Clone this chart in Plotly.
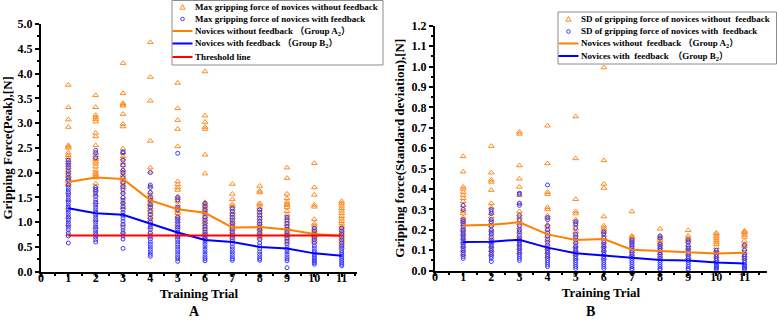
import plotly.graph_objects as go

trials = [1, 2, 3, 4, 5, 6, 7, 8, 9, 10, 11]
x_ticks = [0, 1, 2, 3, 4, 5, 6, 7, 8, 9, 10, 11]

# ---- Panel A: peak gripping force ----
peak_A_mean = [1.81, 1.90, 1.87, 1.44, 1.26, 1.19, 0.89, 0.90, 0.85, 0.76, 0.72]
peak_B_mean = [1.28, 1.18, 1.15, 0.97, 0.79, 0.64, 0.60, 0.50, 0.47, 0.37, 0.32]
threshold = [0.73] * 11

peak_A_pts = [
    [3.77, 3.32, 3.07, 2.92, 2.55, 2.52, 2.50, 2.40, 2.35, 2.30, 2.25, 2.20, 2.15, 2.10, 2.05, 2.00, 1.95, 1.92, 1.88, 1.85, 1.82, 1.78, 1.75, 1.60, 1.45, 1.30, 1.10, 0.95, 0.75],
    [3.56, 3.32, 3.16, 3.12, 3.08, 3.03, 2.80, 2.73, 2.55, 2.40, 2.35, 2.30, 2.27, 2.22, 2.18, 2.12, 2.05, 2.00, 1.97, 1.93, 1.90, 1.78, 1.72, 1.65, 1.55, 1.40, 1.20, 1.05, 0.90, 0.75],
    [4.21, 3.60, 3.40, 3.37, 3.35, 3.18, 2.98, 2.93, 2.48, 2.40, 2.33, 2.28, 2.20, 2.15, 2.05, 2.00, 1.95, 1.90, 1.85, 1.80, 1.75, 1.70, 1.60, 1.50, 1.40, 1.30, 1.15, 0.95, 0.80],
    [4.63, 3.93, 3.45, 2.64, 2.10, 2.02, 1.72, 1.60, 1.55, 1.50, 1.45, 1.42, 1.38, 1.35, 1.30, 1.25, 1.20, 1.15, 1.10, 1.05, 1.00, 0.90, 0.80, 0.70],
    [3.81, 3.30, 3.06, 2.88, 2.53, 1.82, 1.76, 1.70, 1.65, 1.52, 1.48, 1.42, 1.35, 1.30, 1.27, 1.22, 1.18, 1.12, 1.08, 1.02, 0.95, 0.90, 0.80, 0.70],
    [4.04, 3.15, 3.02, 2.92, 2.88, 2.36, 1.98, 1.40, 1.36, 1.32, 1.28, 1.24, 1.20, 1.15, 1.10, 1.05, 1.00, 0.95, 0.90, 0.85, 0.80, 0.75, 0.70],
    [1.77, 1.57, 1.46, 1.36, 1.32, 1.27, 1.20, 1.15, 1.10, 1.05, 1.00, 0.96, 0.92, 0.88, 0.85, 0.80, 0.76, 0.72, 0.68, 0.62],
    [1.73, 1.63, 1.60, 1.38, 1.35, 1.30, 1.26, 1.20, 1.14, 1.08, 1.02, 0.97, 0.92, 0.88, 0.85, 0.80, 0.76, 0.72, 0.68],
    [2.10, 1.89, 1.57, 1.48, 1.41, 1.37, 1.34, 1.30, 1.22, 1.15, 1.08, 1.02, 0.96, 0.90, 0.85, 0.80, 0.76, 0.72, 0.66, 0.60],
    [2.19, 1.70, 1.55, 1.35, 1.31, 1.06, 0.97, 0.93, 0.88, 0.84, 0.80, 0.77, 0.74, 0.71, 0.68, 0.64, 0.60],
    [1.42, 1.38, 1.33, 1.28, 1.23, 1.18, 1.12, 1.07, 1.02, 0.97, 0.92, 0.88, 0.84, 0.80, 0.76, 0.72, 0.68, 0.64, 0.60, 0.55, 0.50],
]
peak_B_pts = [
    [2.25, 2.20, 2.15, 2.10, 2.03, 1.97, 1.90, 1.85, 1.75, 1.70, 1.65, 1.60, 1.55, 1.50, 1.45, 1.40, 1.35, 1.30, 1.25, 1.20, 1.15, 1.10, 1.05, 1.00, 0.95, 0.90, 0.85, 0.78, 0.72, 0.58],
    [2.45, 2.40, 2.30, 1.70, 1.66, 1.62, 1.58, 1.52, 1.45, 1.40, 1.35, 1.30, 1.25, 1.20, 1.15, 1.10, 1.05, 1.00, 0.95, 0.90, 0.85, 0.80, 0.75, 0.70, 0.65, 0.60],
    [2.42, 2.40, 2.25, 2.15, 2.05, 2.00, 1.90, 1.80, 1.72, 1.65, 1.58, 1.50, 1.44, 1.38, 1.32, 1.26, 1.20, 1.14, 1.08, 1.02, 0.96, 0.90, 0.84, 0.78, 0.72, 0.66, 0.47],
    [2.00, 1.75, 1.70, 1.60, 1.50, 1.45, 1.35, 1.30, 1.22, 1.15, 1.08, 1.00, 0.95, 0.90, 0.85, 0.78, 0.72, 0.66, 0.60, 0.55, 0.50, 0.45, 0.40, 0.35, 0.31],
    [2.39, 1.50, 1.45, 1.30, 1.25, 1.10, 1.05, 1.00, 0.95, 0.90, 0.85, 0.80, 0.75, 0.70, 0.65, 0.60, 0.55, 0.50, 0.45, 0.40, 0.35, 0.30, 0.26, 0.21],
    [1.38, 1.32, 1.25, 1.18, 1.10, 1.04, 0.98, 0.92, 0.86, 0.80, 0.75, 0.70, 0.65, 0.60, 0.55, 0.50, 0.45, 0.40, 0.35, 0.30, 0.26, 0.22],
    [1.28, 1.22, 1.16, 1.10, 1.04, 0.98, 0.92, 0.86, 0.80, 0.74, 0.68, 0.62, 0.56, 0.50, 0.45, 0.40, 0.35, 0.30, 0.26, 0.23],
    [1.25, 1.20, 1.14, 1.08, 1.02, 0.96, 0.90, 0.84, 0.78, 0.72, 0.65, 0.58, 0.52, 0.46, 0.40, 0.35, 0.30, 0.26, 0.23],
    [1.10, 1.05, 0.98, 0.92, 0.86, 0.80, 0.74, 0.68, 0.62, 0.56, 0.50, 0.45, 0.40, 0.35, 0.30, 0.26, 0.22, 0.08],
    [0.88, 0.82, 0.76, 0.70, 0.64, 0.58, 0.52, 0.47, 0.42, 0.38, 0.34, 0.30, 0.27, 0.24, 0.21, 0.18, 0.15],
    [0.88, 0.82, 0.76, 0.70, 0.64, 0.58, 0.52, 0.47, 0.42, 0.38, 0.34, 0.30, 0.26, 0.22, 0.18, 0.15, 0.12],
]

# ---- Panel B: standard deviation ----
sd_A_mean = [0.222, 0.225, 0.237, 0.178, 0.150, 0.155, 0.103, 0.098, 0.090, 0.084, 0.088]
sd_B_mean = [0.140, 0.142, 0.152, 0.113, 0.085, 0.075, 0.065, 0.053, 0.050, 0.040, 0.035]

sd_A_pts = [
    [0.56, 0.485, 0.41, 0.40, 0.385, 0.37, 0.355, 0.34, 0.32, 0.30, 0.29, 0.28, 0.26, 0.25, 0.24, 0.225, 0.21, 0.20, 0.18, 0.16, 0.14, 0.12, 0.10, 0.08],
    [0.61, 0.48, 0.445, 0.435, 0.395, 0.33, 0.31, 0.28, 0.265, 0.25, 0.235, 0.22, 0.20, 0.18, 0.16, 0.14, 0.12, 0.10, 0.08],
    [0.68, 0.67, 0.515, 0.45, 0.41, 0.37, 0.33, 0.29, 0.275, 0.26, 0.245, 0.23, 0.21, 0.19, 0.17, 0.15, 0.13, 0.11, 0.09],
    [0.71, 0.525, 0.385, 0.375, 0.31, 0.30, 0.27, 0.26, 0.225, 0.215, 0.20, 0.185, 0.17, 0.15, 0.13, 0.11, 0.09, 0.07],
    [0.755, 0.55, 0.35, 0.29, 0.28, 0.25, 0.24, 0.225, 0.205, 0.19, 0.175, 0.16, 0.14, 0.12, 0.10, 0.08, 0.06],
    [0.995, 0.54, 0.425, 0.405, 0.265, 0.22, 0.21, 0.20, 0.19, 0.175, 0.16, 0.14, 0.12, 0.10, 0.08, 0.06],
    [0.29, 0.17, 0.165, 0.16, 0.15, 0.14, 0.125, 0.11, 0.095, 0.08, 0.065],
    [0.205, 0.17, 0.16, 0.15, 0.14, 0.13, 0.115, 0.10, 0.085, 0.07],
    [0.198, 0.17, 0.16, 0.15, 0.14, 0.125, 0.11, 0.095, 0.08, 0.065],
    [0.185, 0.18, 0.17, 0.16, 0.15, 0.14, 0.13, 0.115, 0.10, 0.085, 0.07, 0.055],
    [0.195, 0.19, 0.185, 0.175, 0.165, 0.145, 0.13, 0.12, 0.105, 0.09, 0.075, 0.06],
]
sd_B_pts = [
    [0.32, 0.30, 0.25, 0.24, 0.23, 0.215, 0.20, 0.19, 0.18, 0.17, 0.16, 0.15, 0.14, 0.13, 0.12, 0.11, 0.10, 0.09, 0.08, 0.07, 0.06],
    [0.30, 0.29, 0.28, 0.25, 0.24, 0.22, 0.20, 0.19, 0.18, 0.165, 0.15, 0.14, 0.13, 0.12, 0.11, 0.10, 0.09, 0.08, 0.07, 0.06, 0.045],
    [0.38, 0.375, 0.33, 0.32, 0.27, 0.25, 0.22, 0.20, 0.19, 0.175, 0.16, 0.15, 0.14, 0.13, 0.12, 0.11, 0.10, 0.09, 0.08, 0.07, 0.06, 0.05],
    [0.42, 0.26, 0.25, 0.22, 0.20, 0.185, 0.17, 0.155, 0.14, 0.125, 0.11, 0.10, 0.09, 0.08, 0.07, 0.06, 0.05, 0.04, 0.03, 0.02],
    [0.24, 0.23, 0.21, 0.18, 0.165, 0.15, 0.135, 0.12, 0.11, 0.10, 0.09, 0.08, 0.07, 0.06, 0.05, 0.04, 0.03, 0.02, 0.01],
    [0.19, 0.18, 0.16, 0.145, 0.13, 0.12, 0.11, 0.10, 0.09, 0.08, 0.07, 0.06, 0.05, 0.04, 0.03, 0.02, 0.01],
    [0.15, 0.14, 0.13, 0.12, 0.11, 0.10, 0.09, 0.08, 0.07, 0.06, 0.05, 0.04, 0.03, 0.02, 0.01, 0.005],
    [0.17, 0.16, 0.13, 0.12, 0.11, 0.10, 0.09, 0.08, 0.07, 0.06, 0.05, 0.04, 0.03, 0.02, 0.01, 0.005],
    [0.15, 0.14, 0.12, 0.11, 0.10, 0.09, 0.08, 0.07, 0.06, 0.05, 0.04, 0.03, 0.02, 0.01, 0.005],
    [0.10, 0.09, 0.08, 0.07, 0.06, 0.05, 0.04, 0.03, 0.025, 0.02, 0.015, 0.01, 0.005],
    [0.125, 0.10, 0.08, 0.07, 0.06, 0.05, 0.04, 0.03, 0.025, 0.02, 0.015, 0.01, 0.005],
]

legend_A_labels = [
    "Max gripping force of novices without feedback",
    "Max gripping force of novices with feedback",
    "Novices without feedback （Group A<sub>2</sub>）",
    "Novices with feedback （Group B<sub>2</sub>）",
    "Threshold line",
]
legend_B_labels = [
    "SD of gripping force of novices without  feedback",
    "SD of gripping force of novices with  feedback",
    "Novices without  feedback （Group A<sub>2</sub>）",
    "Novices with  feedback  （Group B<sub>2</sub>）",
]

FONT = "Liberation Serif, Times New Roman, Noto Sans CJK SC, serif"
ORANGE = "#FF8A1F"
ORANGE_LINE = "#FF8000"
BLUE_M = "#3C3CFF"
BLUE_L = "#0000FF"
RED = "#FF0000"
W, H = 777, 321


def flat(pts):
    xs, ys = [], []
    for t, vals in zip(trials, pts):
        xs += [t] * len(vals)
        ys += vals
    return xs, ys


def fx(px):
    return px / W


def fy(py):
    return 1 - py / H


fig = go.Figure()

tri = dict(symbol="triangle-up-open", size=5, color=ORANGE, line=dict(width=1))
circ = dict(symbol="circle-open", size=4, color=BLUE_M, line=dict(width=1))

# Panel A traces
xa, ya = flat(peak_A_pts)
fig.add_trace(go.Scatter(x=xa, y=ya, mode="markers", name=legend_A_labels[0], marker=tri, xaxis="x", yaxis="y"))
xb, yb = flat(peak_B_pts)
fig.add_trace(go.Scatter(x=xb, y=yb, mode="markers", name=legend_A_labels[1], marker=circ, xaxis="x", yaxis="y"))
fig.add_trace(go.Scatter(x=trials, y=peak_A_mean, mode="lines", name=legend_A_labels[2],
                         line=dict(color=ORANGE_LINE, width=2), xaxis="x", yaxis="y"))
fig.add_trace(go.Scatter(x=trials, y=peak_B_mean, mode="lines", name=legend_A_labels[3],
                         line=dict(color=BLUE_L, width=2), xaxis="x", yaxis="y"))
fig.add_trace(go.Scatter(x=trials, y=threshold, mode="lines", name=legend_A_labels[4],
                         line=dict(color=RED, width=2), xaxis="x", yaxis="y"))

# Panel B traces
xa2, ya2 = flat(sd_A_pts)
fig.add_trace(go.Scatter(x=xa2, y=ya2, mode="markers", name=legend_B_labels[0], marker=tri, xaxis="x2", yaxis="y2"))
xb2, yb2 = flat(sd_B_pts)
fig.add_trace(go.Scatter(x=xb2, y=yb2, mode="markers", name=legend_B_labels[1], marker=circ, xaxis="x2", yaxis="y2"))
fig.add_trace(go.Scatter(x=trials, y=sd_A_mean, mode="lines", name=legend_B_labels[2],
                         line=dict(color=ORANGE_LINE, width=2), xaxis="x2", yaxis="y2"))
fig.add_trace(go.Scatter(x=trials, y=sd_B_mean, mode="lines", name=legend_B_labels[3],
                         line=dict(color=BLUE_L, width=2), xaxis="x2", yaxis="y2"))

# ---- compact legends (drawn as shapes + text) ----
shapes, annotations = [], []
leg_font = dict(family=FONT, size=9, color="black", weight="bold")


def draw_legend(box, rows, key_x0, key_x1, text_x, labels, kinds):
    x0, y0, x1, y1 = box
    shapes.append(dict(type="rect", xref="paper", yref="paper", x0=fx(x0), x1=fx(x1), y0=fy(y1), y1=fy(y0),
                       line=dict(color="#8c8c8c", width=1), fillcolor="white", layer="above"))
    cx = (key_x0 + key_x1) / 2
    for row, label, (kind, color) in zip(rows, labels, kinds):
        if kind == "tri":
            path = "M {:.5f},{:.5f} L {:.5f},{:.5f} L {:.5f},{:.5f} Z".format(
                fx(cx - 2.6), fy(row + 2.2), fx(cx + 2.6), fy(row + 2.2), fx(cx), fy(row - 2.4))
            shapes.append(dict(type="path", xref="paper", yref="paper", path=path,
                               line=dict(color=color, width=1), layer="above"))
        elif kind == "circ":
            shapes.append(dict(type="circle", xref="paper", yref="paper", x0=fx(cx - 1.8), x1=fx(cx + 1.8),
                               y0=fy(row + 1.8), y1=fy(row - 1.8), line=dict(color=color, width=1), layer="above"))
        else:
            shapes.append(dict(type="line", xref="paper", yref="paper", x0=fx(key_x0), x1=fx(key_x1),
                               y0=fy(row), y1=fy(row), line=dict(color=color, width=2), layer="above"))
        annotations.append(dict(text=label, x=fx(text_x), y=fy(row), xref="paper", yref="paper",
                                xanchor="left", yanchor="middle", showarrow=False, font=leg_font))


kinds_A = [("tri", ORANGE), ("circ", BLUE_M), ("line", ORANGE_LINE), ("line", BLUE_L), ("line", RED)]
kinds_B = [("tri", ORANGE), ("circ", BLUE_M), ("line", ORANGE_LINE), ("line", BLUE_L)]
draw_legend((172, 0.5, 383, 65), [7, 19, 31, 43.5, 57], 172.5, 192.5, 193, legend_A_labels, kinds_A)
draw_legend((558, 12, 776.5, 64), [19, 31.5, 43.5, 56], 558.5, 578.5, 579, legend_B_labels, kinds_B)

annotations += [
    dict(text="A", x=fx(187), y=fy(311.5), xref="paper", yref="paper", showarrow=False,
         font=dict(family=FONT, size=14, color="black", weight="bold"), yanchor="middle"),
    dict(text="B", x=fx(597), y=fy(311.5), xref="paper", yref="paper", showarrow=False,
         font=dict(family=FONT, size=14, color="black", weight="bold"), yanchor="middle"),
]

tickfont = dict(family=FONT, size=12, color="black", weight="bold")
titlefont = dict(family=FONT, size=13, color="black", weight="bold")

common_x = dict(tickmode="array", tickvals=x_ticks, ticktext=[str(v) for v in x_ticks],
                showline=True, linecolor="black", linewidth=2, ticks="outside", ticklen=3,
                tickwidth=1.5, tickcolor="black", showgrid=False, zeroline=False, automargin=False,
                ticklabelstandoff=-9,
                tickfont=tickfont, minor=dict(dtick=0.5, ticks="outside", ticklen=2, tickcolor="black"))
common_y = dict(showline=True, linecolor="black", linewidth=2, ticks="outside", ticklen=4,
                tickwidth=1.5, tickcolor="black", showgrid=False, zeroline=False, tickfont=tickfont,
                automargin=False)

fig.update_layout(
    width=W, height=H,
    margin=dict(l=0, r=0, t=0, b=0, autoexpand=False),
    paper_bgcolor="white", plot_bgcolor="white",
    showlegend=False,
    xaxis=dict(domain=[fx(41), fx(357)], range=[0, 11.56], anchor="y",
               title=dict(text="Training Trial", font=titlefont, standoff=5), **common_x),
    yaxis=dict(domain=[fy(271.7), fy(24)], range=[0, 5], anchor="x", tickformat=".1f", dtick=0.5,
               minor=dict(dtick=0.25, ticks="outside", ticklen=2, tickcolor="black"),
               title=dict(text="Gripping Force(Peak),[N]", font=titlefont, standoff=4), **common_y),
    xaxis2=dict(domain=[fx(435), fx(767)], range=[0, 11.8], anchor="y2",
                title=dict(text="Training Trial", font=titlefont, standoff=5), **common_x),
    yaxis2=dict(domain=[fy(270.7), fy(25.7)], range=[0, 1.2], anchor="x2", tickformat=".1f", dtick=0.1,
                minor=dict(dtick=0.05, ticks="outside", ticklen=2, tickcolor="black"),
                title=dict(text="Gripping force(Standard deviation),[N]", font=titlefont, standoff=4), **common_y),
    shapes=shapes,
    annotations=annotations,
)

fig.write_html("out.html", config={"displayModeBar": False},
               post_script="document.body.style.margin='0';document.body.style.overflow='hidden';")
